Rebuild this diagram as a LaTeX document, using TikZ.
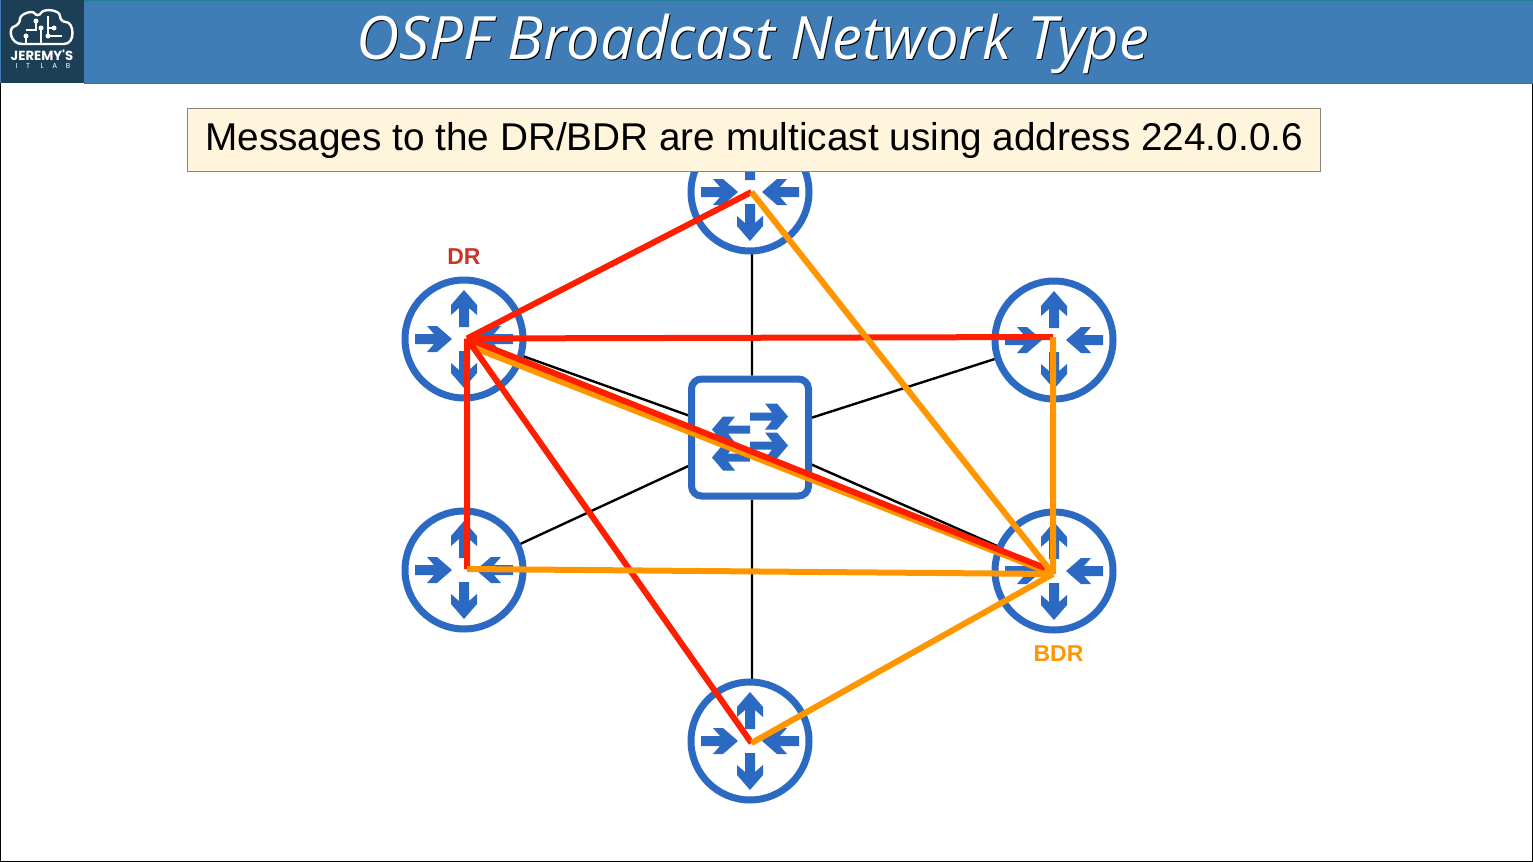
\documentclass[tikz,border=0pt]{standalone}
\usepackage{fontspec}
\setmainfont{Liberation Sans}
\newfontfamily\titlefont{Open Sans}
\newfontfamily\logofont{Poppins}
\usetikzlibrary{positioning,backgrounds}

\definecolor{bannerblue}{HTML}{407DB7}
\definecolor{bannerline}{HTML}{1F7F96}
\definecolor{logoblue}{HTML}{1D3F55}
\definecolor{iconblue}{HTML}{2B69C3}
\definecolor{notefill}{HTML}{FFF5DC}
\definecolor{notedraw}{HTML}{8A8578}
\definecolor{drred}{HTML}{FF1E00}
\definecolor{bdrorange}{HTML}{FF9600}
\definecolor{drlabel}{HTML}{C8352B}

\begin{document}
\begin{tikzpicture}[x=.5pt,y=-.5pt]
        \tikzset{router/.style={draw=iconblue,fill=white,circle,line width=3.5pt,inner sep=0pt,minimum size=59pt},
        swbox/.style={draw=iconblue,fill=white,rectangle,rounded corners=5pt,line width=3.5pt,inner sep=0pt,minimum size=58.5pt},
        link/.style={draw=black,line width=1.2pt},
        redline/.style={draw=drred,line width=3pt},
        orangeline/.style={draw=bdrorange,line width=3pt},
        titletext/.style={font=\titlefont\itshape\fontsize{29.9}{30}\selectfont},
        routericon/.pic={
            \foreach \a in {0,180}
                \fill[iconblue,rotate=\a] (0,-49) -- (13,-34) -- (13,-24) -- (5,-31) -- (5,-12) -- (-5,-12) -- (-5,-31) -- (-13,-24) -- (-13,-34) -- cycle;
            \foreach \a in {90,270}
                \fill[iconblue,rotate=\a] (0,-12) -- (13,-27) -- (13,-37) -- (5,-30) -- (5,-49) -- (-5,-49) -- (-5,-30) -- (-13,-37) -- (-13,-27) -- cycle;
        },
        swicon/.pic={
            \foreach \yy in {-21,8}
                \fill[iconblue] (0,\yy-4) -- (22,\yy-4) -- (15,\yy-13) -- (27,\yy-13) -- (38,\yy) -- (27,\yy+13) -- (15,\yy+13) -- (22,\yy+4) -- (0,\yy+4) -- cycle;
            \foreach \yy in {-8,20}
                \fill[iconblue] (0,\yy-4) -- (-22,\yy-4) -- (-15,\yy-13) -- (-27,\yy-13) -- (-38,\yy) -- (-27,\yy+13) -- (-15,\yy+13) -- (-22,\yy+4) -- (0,\yy+4) -- cycle;
        },
        }
        \useasboundingbox (0,0) rectangle (1533,862);
        \draw[black,line width=.8pt] (0,0) rectangle (1533,862);

%% banner
        \fill[bannerblue] (0,0) rectangle (1533,83);
        \draw[bannerline,line width=.6pt] (84,.5) -- (1533,.5) (84,83.5) -- (1533,83.5);
        \fill[logoblue] (1,0) rectangle (84,83);
        \node[black,titletext] (titleshadow) at (753.5,44.5) {OSPF Broadcast Network Type};
        \node[white,titletext] (title) at (752.5,43.5) {OSPF Broadcast Network Type};

%% logo
        \draw[white,line width=1.2pt,rounded corners=3pt] (28,44) .. controls (10,44) and (8,28) .. (20,25) .. controls (20,14) and (32,10) .. (38,18) .. controls (44,8) and (60,10) .. (60,22) .. controls (74,22) and (76,44) .. (58,44) -- cycle;
        \draw[white,line width=.9pt] (26,44) -- (26,36) (41,44) -- (41,28) (36,21) -- (36,30) -- (26,30) (48,16) -- (48,36) -- (62,36) (48,28) -- (54,28);
        \foreach \p in {(26,36),(41,28),(36,21),(48,36),(54,28)}
            \fill[white] \p circle (2.5);
        \node[white,font=\logofont\bfseries\fontsize{6.6}{7}\selectfont,inner sep=0pt] (logotop) at (42,55.5) {JEREMY'S};
        \node[white,font=\logofont\fontsize{3.6}{4}\selectfont\addfontfeature{LetterSpace=120},inner sep=0pt] (logobot) at (43,65.5) {IT LAB};

%% nodes
        \node[swbox] (sw) at (750,437.5) {};
        \node[router] (dr) at (464,339) {};
        \node[router] (rtr) at (1054,340) {};
        \node[router] (rbl) at (464,570) {};
        \node[router] (bdr) at (1054,571) {};
        \node[router] (rtop) at (750,192) {};
        \node[router] (rbot) at (750,741) {};
        \foreach \r in {dr,rtr,rbl,bdr,rtop,rbot}
            \pic at (\r.center) {routericon};
        \pic at (sw.center) {swicon};
        \node[drlabel,font=\bfseries\fontsize{11.5}{11}\selectfont] (drtext) at (464,256.5) {DR};
        \node[bdrorange,font=\bfseries\fontsize{11.5}{11}\selectfont] (bdrtext) at (1058.5,653.5) {BDR};

%% link ends
        \coordinate (dra) at (464,335);
        \coordinate (topa) at (752,200);
        \coordinate (bota) at (752,730);

        \begin{scope}[on background layer]
        \path[link] (dra) -- (sw.center)
                    (sw.center) -- (bdr.center)
                    (rbl.center) -- (sw.center)
                    (rtr.center) -- (sw.center)
                    (topa) -- (topa |- sw.north)
                    (bota) -- (bota |- sw.south);
        \end{scope}

%% hubs where the coloured lines meet
        \coordinate (drhub) at (467,338.5);
        \coordinate (drhubo) at (467,345);
        \coordinate (tophub) at (751.5,192);
        \coordinate (trhub) at (1053,337);
        \coordinate (blhub) at (467,569);
        \coordinate (bothub) at (751.5,743);
        \coordinate (brhub) at (1053,574);
        \coordinate (brhubr) at (1045,568);

%% paths
        \path[orangeline] (brhub) -- (drhubo);
        \path[redline] (drhub) -- (tophub)
                    (drhub) -- (trhub)
                    (drhub) -- (blhub)
                    (drhub) -- (bothub)
                    (drhub) -- (brhubr);
        \path[orangeline] (brhub) -- (tophub)
                    (brhub) -- (trhub)
                    (brhub) -- (blhub)
                    (brhub) -- (bothub);

%% note
        \node[draw=notedraw,fill=notefill,line width=.5pt,inner sep=0pt,minimum width=566.5pt,minimum height=31.5pt,font=\fontsize{19.36}{20}\selectfont] (note) at (754.2,140.2) {Messages to the DR/BDR are multicast using address 224.0.0.6};
 \end{tikzpicture}
\end{document}
